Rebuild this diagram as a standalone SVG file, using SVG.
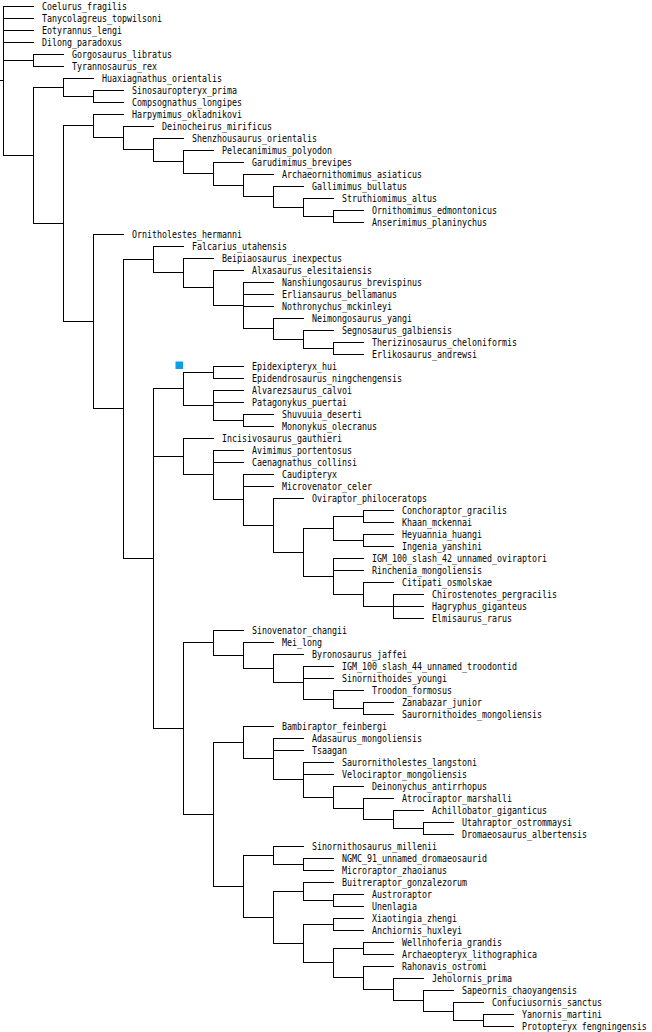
<svg xmlns="http://www.w3.org/2000/svg" width="652" height="1032" viewBox="0 0 652 1032">
<style>
.e{fill:none;stroke:#000;stroke-width:1;stroke-linecap:square}
text{font-family:"DejaVu Sans Mono","Liberation Mono",monospace;font-size:10px;fill:#000}
</style>
<rect width="652" height="1032" fill="#fff"/>
<g id="connectors">
<path class="e" d="M0 80.5h3.5M3.5 6.5V155.5M3.5 6.5h30M3.5 18.5h30M3.5 30.5h30M3.5 42.5h30M3.5 60.5h30M3.5 155.5h30"/>
<path class="e" d="M33.5 54.5V66.5M33.5 54.5h30M33.5 66.5h30"/>
<path class="e" d="M33.5 87.5V223.5M33.5 87.5h30M33.5 223.5h30"/>
<path class="e" d="M63.5 78.5V96.5M63.5 78.5h30M63.5 96.5h30M93.5 90.5V102.5M93.5 90.5h30M93.5 102.5h30"/>
<path class="e" d="M63.5 125.5V321.5M63.5 125.5h30M63.5 321.5h30"/>
<path class="e" d="M93.5 114.5V137.5M93.5 114.5h30M93.5 137.5h30M123.5 126.5V149.5M123.5 126.5h30M123.5 149.5h30M153.5 138.5V161.5M153.5 138.5h30M153.5 161.5h30M183.5 150.5V173.5M183.5 150.5h30M183.5 173.5h30M213.5 162.5V185.5M213.5 162.5h30M213.5 185.5h30M243.5 174.5V196.5M243.5 174.5h30M243.5 196.5h30M273.5 186.5V207.5M273.5 186.5h30M273.5 207.5h30M303.5 198.5V216.5M303.5 198.5h30M303.5 216.5h30M333.5 210.5V222.5M333.5 210.5h30M333.5 222.5h30"/>
<path class="e" d="M93.5 234.5V408.5M93.5 234.5h30M93.5 408.5h30M123.5 259.5V558.5M123.5 259.5h30M123.5 558.5h30"/>
<path class="e" d="M153.5 246.5V272.5M153.5 246.5h30M153.5 272.5h30M183.5 258.5V287.5M183.5 258.5h30M183.5 287.5h30M213.5 270.5V305.5M213.5 270.5h30M213.5 305.5h30M243.5 282.5V328.5M243.5 282.5h30M243.5 294.5h30M243.5 306.5h30M243.5 328.5h30M273.5 318.5V339.5M273.5 318.5h30M273.5 339.5h30M303.5 330.5V348.5M303.5 330.5h30M303.5 348.5h30M333.5 342.5V354.5M333.5 342.5h30M333.5 354.5h30"/>
<path class="e" d="M153.5 388.5V728.5M153.5 388.5h30M153.5 456.5h30M153.5 728.5h30"/>
<path class="e" d="M183.5 372.5V405.5M183.5 372.5h30M183.5 405.5h30M213.5 366.5V378.5M213.5 366.5h30M213.5 378.5h30M213.5 390.5V420.5M213.5 390.5h30M213.5 402.5h30M213.5 420.5h30M243.5 414.5V426.5M243.5 414.5h30M243.5 426.5h30"/>
<path class="e" d="M183.5 438.5V474.5M183.5 438.5h30M183.5 474.5h30M213.5 450.5V499.5M213.5 450.5h30M213.5 462.5h30M213.5 499.5h30M243.5 474.5V525.5M243.5 474.5h30M243.5 486.5h30M243.5 525.5h30M273.5 498.5V552.5M273.5 498.5h30M273.5 552.5h30M303.5 528.5V576.5M303.5 528.5h30M303.5 576.5h30M333.5 516.5V540.5M333.5 516.5h30M333.5 540.5h30M363.5 510.5V522.5M363.5 510.5h30M363.5 522.5h30M363.5 534.5V546.5M363.5 534.5h30M363.5 546.5h30M333.5 558.5V594.5M333.5 558.5h30M333.5 570.5h30M333.5 594.5h30M363.5 582.5V606.5M363.5 582.5h30M363.5 606.5h30M393.5 594.5V618.5M393.5 594.5h30M393.5 606.5h30M393.5 618.5h30"/>
<path class="e" d="M183.5 642.5V814.5M183.5 642.5h30M183.5 814.5h30"/>
<path class="e" d="M213.5 630.5V655.5M213.5 630.5h30M213.5 655.5h30M243.5 642.5V668.5M243.5 642.5h30M243.5 668.5h30M273.5 654.5V682.5M273.5 654.5h30M273.5 682.5h30M303.5 666.5V699.5M303.5 666.5h30M303.5 678.5h30M303.5 699.5h30M333.5 690.5V708.5M333.5 690.5h30M333.5 708.5h30M363.5 702.5V714.5M363.5 702.5h30M363.5 714.5h30"/>
<path class="e" d="M213.5 742.5V886.5M213.5 742.5h30M213.5 886.5h30"/>
<path class="e" d="M243.5 726.5V758.5M243.5 726.5h30M243.5 758.5h30M273.5 738.5V779.5M273.5 738.5h30M273.5 750.5h30M273.5 779.5h30M303.5 762.5V797.5M303.5 762.5h30M303.5 774.5h30M303.5 797.5h30M333.5 786.5V808.5M333.5 786.5h30M333.5 808.5h30M363.5 798.5V819.5M363.5 798.5h30M363.5 819.5h30M393.5 810.5V828.5M393.5 810.5h30M393.5 828.5h30M423.5 822.5V834.5M423.5 822.5h30M423.5 834.5h30"/>
<path class="e" d="M243.5 855.5V917.5M243.5 855.5h30M243.5 917.5h30M273.5 846.5V864.5M273.5 846.5h30M273.5 864.5h30M303.5 858.5V870.5M303.5 858.5h30M303.5 870.5h30"/>
<path class="e" d="M273.5 891.5V943.5M273.5 891.5h30M273.5 943.5h30M303.5 882.5V900.5M303.5 882.5h30M303.5 900.5h30M333.5 894.5V906.5M333.5 894.5h30M333.5 906.5h30"/>
<path class="e" d="M303.5 924.5V962.5M303.5 924.5h30M303.5 962.5h30M333.5 918.5V930.5M333.5 918.5h30M333.5 930.5h30M333.5 948.5V977.5M333.5 948.5h30M333.5 977.5h30M363.5 942.5V954.5M363.5 942.5h30M363.5 954.5h30M363.5 966.5V989.5M363.5 966.5h30M363.5 989.5h30M393.5 978.5V1000.5M393.5 978.5h30M393.5 1000.5h30M423.5 990.5V1011.5M423.5 990.5h30M423.5 1011.5h30M453.5 1002.5V1020.5M453.5 1002.5h30M453.5 1020.5h30M483.5 1014.5V1026.5M483.5 1014.5h30M483.5 1026.5h30"/>
</g>
<g id="marker-epidexipteryx"><rect x="175.5" y="361.5" width="7.5" height="7.5" fill="#0a9fe6"/></g>
<g id="leaves" transform="translate(0,-0.5)">
<g id="leaf-0"><text x="42" y="10" textLength="85" lengthAdjust="spacingAndGlyphs">Coelurus_fragilis</text></g>
<g id="leaf-1"><text x="42" y="22" textLength="120" lengthAdjust="spacingAndGlyphs">Tanycolagreus_topwilsoni</text></g>
<g id="leaf-2"><text x="42" y="34" textLength="80" lengthAdjust="spacingAndGlyphs">Eotyrannus_lengi</text></g>
<g id="leaf-3"><text x="42" y="46" textLength="80" lengthAdjust="spacingAndGlyphs">Dilong_paradoxus</text></g>
<g id="leaf-4"><text x="72" y="58" textLength="100" lengthAdjust="spacingAndGlyphs">Gorgosaurus_libratus</text></g>
<g id="leaf-5"><text x="72" y="70" textLength="85" lengthAdjust="spacingAndGlyphs">Tyrannosaurus_rex</text></g>
<g id="leaf-6"><text x="102" y="82" textLength="120" lengthAdjust="spacingAndGlyphs">Huaxiagnathus_orientalis</text></g>
<g id="leaf-7"><text x="132" y="94" textLength="105" lengthAdjust="spacingAndGlyphs">Sinosauropteryx_prima</text></g>
<g id="leaf-8"><text x="132" y="106" textLength="110" lengthAdjust="spacingAndGlyphs">Compsognathus_longipes</text></g>
<g id="leaf-9"><text x="132" y="118" textLength="110" lengthAdjust="spacingAndGlyphs">Harpymimus_okladnikovi</text></g>
<g id="leaf-10"><text x="162" y="130" textLength="110" lengthAdjust="spacingAndGlyphs">Deinocheirus_mirificus</text></g>
<g id="leaf-11"><text x="192" y="142" textLength="125" lengthAdjust="spacingAndGlyphs">Shenzhousaurus_orientalis</text></g>
<g id="leaf-12"><text x="222" y="154" textLength="110" lengthAdjust="spacingAndGlyphs">Pelecanimimus_polyodon</text></g>
<g id="leaf-13"><text x="252" y="166" textLength="100" lengthAdjust="spacingAndGlyphs">Garudimimus_brevipes</text></g>
<g id="leaf-14"><text x="282" y="178" textLength="140" lengthAdjust="spacingAndGlyphs">Archaeornithomimus_asiaticus</text></g>
<g id="leaf-15"><text x="312" y="190" textLength="95" lengthAdjust="spacingAndGlyphs">Gallimimus_bullatus</text></g>
<g id="leaf-16"><text x="342" y="202" textLength="95" lengthAdjust="spacingAndGlyphs">Struthiomimus_altus</text></g>
<g id="leaf-17"><text x="372" y="214" textLength="125" lengthAdjust="spacingAndGlyphs">Ornithomimus_edmontonicus</text></g>
<g id="leaf-18"><text x="372" y="226" textLength="115" lengthAdjust="spacingAndGlyphs">Anserimimus_planinychus</text></g>
<g id="leaf-19"><text x="132" y="238" textLength="110" lengthAdjust="spacingAndGlyphs">Ornitholestes_hermanni</text></g>
<g id="leaf-20"><text x="192" y="250" textLength="95" lengthAdjust="spacingAndGlyphs">Falcarius_utahensis</text></g>
<g id="leaf-21"><text x="222" y="262" textLength="120" lengthAdjust="spacingAndGlyphs">Beipiaosaurus_inexpectus</text></g>
<g id="leaf-22"><text x="252" y="274" textLength="120" lengthAdjust="spacingAndGlyphs">Alxasaurus_elesitaiensis</text></g>
<g id="leaf-23"><text x="282" y="286" textLength="140" lengthAdjust="spacingAndGlyphs">Nanshiungosaurus_brevispinus</text></g>
<g id="leaf-24"><text x="282" y="298" textLength="115" lengthAdjust="spacingAndGlyphs">Erliansaurus_bellamanus</text></g>
<g id="leaf-25"><text x="282" y="310" textLength="110" lengthAdjust="spacingAndGlyphs">Nothronychus_mckinleyi</text></g>
<g id="leaf-26"><text x="312" y="322" textLength="100" lengthAdjust="spacingAndGlyphs">Neimongosaurus_yangi</text></g>
<g id="leaf-27"><text x="342" y="334" textLength="110" lengthAdjust="spacingAndGlyphs">Segnosaurus_galbiensis</text></g>
<g id="leaf-28"><text x="372" y="346" textLength="145" lengthAdjust="spacingAndGlyphs">Therizinosaurus_cheloniformis</text></g>
<g id="leaf-29"><text x="372" y="358" textLength="105" lengthAdjust="spacingAndGlyphs">Erlikosaurus_andrewsi</text></g>
<g id="leaf-30"><text x="252" y="370" textLength="85" lengthAdjust="spacingAndGlyphs">Epidexipteryx_hui</text></g>
<g id="leaf-31"><text x="252" y="382" textLength="150" lengthAdjust="spacingAndGlyphs">Epidendrosaurus_ningchengensis</text></g>
<g id="leaf-32"><text x="252" y="394" textLength="100" lengthAdjust="spacingAndGlyphs">Alvarezsaurus_calvoi</text></g>
<g id="leaf-33"><text x="252" y="406" textLength="95" lengthAdjust="spacingAndGlyphs">Patagonykus_puertai</text></g>
<g id="leaf-34"><text x="282" y="418" textLength="80" lengthAdjust="spacingAndGlyphs">Shuvuuia_deserti</text></g>
<g id="leaf-35"><text x="282" y="430" textLength="95" lengthAdjust="spacingAndGlyphs">Mononykus_olecranus</text></g>
<g id="leaf-36"><text x="222" y="442" textLength="120" lengthAdjust="spacingAndGlyphs">Incisivosaurus_gauthieri</text></g>
<g id="leaf-37"><text x="252" y="454" textLength="100" lengthAdjust="spacingAndGlyphs">Avimimus_portentosus</text></g>
<g id="leaf-38"><text x="252" y="466" textLength="105" lengthAdjust="spacingAndGlyphs">Caenagnathus_collinsi</text></g>
<g id="leaf-39"><text x="282" y="478" textLength="55" lengthAdjust="spacingAndGlyphs">Caudipteryx</text></g>
<g id="leaf-40"><text x="282" y="490" textLength="90" lengthAdjust="spacingAndGlyphs">Microvenator_celer</text></g>
<g id="leaf-41"><text x="312" y="502" textLength="115" lengthAdjust="spacingAndGlyphs">Oviraptor_philoceratops</text></g>
<g id="leaf-42"><text x="402" y="514" textLength="105" lengthAdjust="spacingAndGlyphs">Conchoraptor_gracilis</text></g>
<g id="leaf-43"><text x="402" y="526" textLength="70" lengthAdjust="spacingAndGlyphs">Khaan_mckennai</text></g>
<g id="leaf-44"><text x="402" y="538" textLength="80" lengthAdjust="spacingAndGlyphs">Heyuannia_huangi</text></g>
<g id="leaf-45"><text x="402" y="550" textLength="80" lengthAdjust="spacingAndGlyphs">Ingenia_yanshini</text></g>
<g id="leaf-46"><text x="372" y="562" textLength="175" lengthAdjust="spacingAndGlyphs">IGM_100_slash_42_unnamed_oviraptori</text></g>
<g id="leaf-47"><text x="372" y="574" textLength="110" lengthAdjust="spacingAndGlyphs">Rinchenia_mongoliensis</text></g>
<g id="leaf-48"><text x="402" y="586" textLength="90" lengthAdjust="spacingAndGlyphs">Citipati_osmolskae</text></g>
<g id="leaf-49"><text x="432" y="598" textLength="125" lengthAdjust="spacingAndGlyphs">Chirostenotes_pergracilis</text></g>
<g id="leaf-50"><text x="432" y="610" textLength="95" lengthAdjust="spacingAndGlyphs">Hagryphus_giganteus</text></g>
<g id="leaf-51"><text x="432" y="622" textLength="80" lengthAdjust="spacingAndGlyphs">Elmisaurus_rarus</text></g>
<g id="leaf-52"><text x="252" y="634" textLength="95" lengthAdjust="spacingAndGlyphs">Sinovenator_changii</text></g>
<g id="leaf-53"><text x="282" y="646" textLength="40" lengthAdjust="spacingAndGlyphs">Mei_long</text></g>
<g id="leaf-54"><text x="312" y="658" textLength="95" lengthAdjust="spacingAndGlyphs">Byronosaurus_jaffei</text></g>
<g id="leaf-55"><text x="342" y="670" textLength="175" lengthAdjust="spacingAndGlyphs">IGM_100_slash_44_unnamed_troodontid</text></g>
<g id="leaf-56"><text x="342" y="682" textLength="105" lengthAdjust="spacingAndGlyphs">Sinornithoides_youngi</text></g>
<g id="leaf-57"><text x="372" y="694" textLength="80" lengthAdjust="spacingAndGlyphs">Troodon_formosus</text></g>
<g id="leaf-58"><text x="402" y="706" textLength="80" lengthAdjust="spacingAndGlyphs">Zanabazar_junior</text></g>
<g id="leaf-59"><text x="402" y="718" textLength="140" lengthAdjust="spacingAndGlyphs">Saurornithoides_mongoliensis</text></g>
<g id="leaf-60"><text x="282" y="730" textLength="105" lengthAdjust="spacingAndGlyphs">Bambiraptor_feinbergi</text></g>
<g id="leaf-61"><text x="312" y="742" textLength="110" lengthAdjust="spacingAndGlyphs">Adasaurus_mongoliensis</text></g>
<g id="leaf-62"><text x="312" y="754" textLength="35" lengthAdjust="spacingAndGlyphs">Tsaagan</text></g>
<g id="leaf-63"><text x="342" y="766" textLength="135" lengthAdjust="spacingAndGlyphs">Saurornitholestes_langstoni</text></g>
<g id="leaf-64"><text x="342" y="778" textLength="125" lengthAdjust="spacingAndGlyphs">Velociraptor_mongoliensis</text></g>
<g id="leaf-65"><text x="372" y="790" textLength="115" lengthAdjust="spacingAndGlyphs">Deinonychus_antirrhopus</text></g>
<g id="leaf-66"><text x="402" y="802" textLength="110" lengthAdjust="spacingAndGlyphs">Atrociraptor_marshalli</text></g>
<g id="leaf-67"><text x="432" y="814" textLength="115" lengthAdjust="spacingAndGlyphs">Achillobator_giganticus</text></g>
<g id="leaf-68"><text x="462" y="826" textLength="110" lengthAdjust="spacingAndGlyphs">Utahraptor_ostrommaysi</text></g>
<g id="leaf-69"><text x="462" y="838" textLength="125" lengthAdjust="spacingAndGlyphs">Dromaeosaurus_albertensis</text></g>
<g id="leaf-70"><text x="312" y="850" textLength="125" lengthAdjust="spacingAndGlyphs">Sinornithosaurus_millenii</text></g>
<g id="leaf-71"><text x="342" y="862" textLength="145" lengthAdjust="spacingAndGlyphs">NGMC_91_unnamed_dromaeosaurid</text></g>
<g id="leaf-72"><text x="342" y="874" textLength="105" lengthAdjust="spacingAndGlyphs">Microraptor_zhaoianus</text></g>
<g id="leaf-73"><text x="342" y="886" textLength="125" lengthAdjust="spacingAndGlyphs">Buitreraptor_gonzalezorum</text></g>
<g id="leaf-74"><text x="372" y="898" textLength="60" lengthAdjust="spacingAndGlyphs">Austroraptor</text></g>
<g id="leaf-75"><text x="372" y="910" textLength="45" lengthAdjust="spacingAndGlyphs">Unenlagia</text></g>
<g id="leaf-76"><text x="372" y="922" textLength="85" lengthAdjust="spacingAndGlyphs">Xiaotingia_zhengi</text></g>
<g id="leaf-77"><text x="372" y="934" textLength="90" lengthAdjust="spacingAndGlyphs">Anchiornis_huxleyi</text></g>
<g id="leaf-78"><text x="402" y="946" textLength="100" lengthAdjust="spacingAndGlyphs">Wellnhoferia_grandis</text></g>
<g id="leaf-79"><text x="402" y="958" textLength="135" lengthAdjust="spacingAndGlyphs">Archaeopteryx_lithographica</text></g>
<g id="leaf-80"><text x="402" y="970" textLength="85" lengthAdjust="spacingAndGlyphs">Rahonavis_ostromi</text></g>
<g id="leaf-81"><text x="432" y="982" textLength="80" lengthAdjust="spacingAndGlyphs">Jeholornis_prima</text></g>
<g id="leaf-82"><text x="462" y="994" textLength="115" lengthAdjust="spacingAndGlyphs">Sapeornis_chaoyangensis</text></g>
<g id="leaf-83"><text x="492" y="1006" textLength="110" lengthAdjust="spacingAndGlyphs">Confuciusornis_sanctus</text></g>
<g id="leaf-84"><text x="522" y="1018" textLength="80" lengthAdjust="spacingAndGlyphs">Yanornis_martini</text></g>
<g id="leaf-85"><text transform="translate(522 1030) scale(0.83 1)" x="0" y="0">Protopteryx_fengningensis</text></g>
</g>
</svg>
